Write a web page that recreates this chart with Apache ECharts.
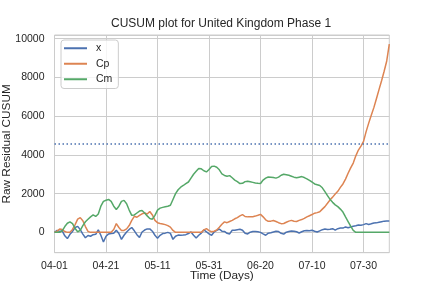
<!DOCTYPE html>
<html><head><meta charset="utf-8">
<script src="https://cdn.jsdelivr.net/npm/echarts@6/dist/echarts.min.js"></script>
<style>html,body{margin:0;padding:0;background:#fff}#c{width:432px;height:288px}</style>
</head><body><div id="c"></div>
<script>
// ---- data ----
const startDate = '2020-04-01';
const numDays = 131;
const seriesNames = ['x', 'Cp', 'Cm'];
const xValues = [0,100,50,80,-180,-320,-100,50,250,310,140,-90,-280,-160,-200,-120,-100,130,-150,-500,
  -200,-80,-60,-40,110,-60,-360,-150,20,150,250,80,-120,-260,20,120,180,180,60,-150,
  -300,-150,-60,-40,0,-50,-360,-200,-140,-150,-140,-120,-60,20,-150,-290,-150,-40,130,30,
  -80,-150,20,100,170,60,50,-50,-80,110,110,140,160,110,-50,-80,10,40,40,30,
  0,-80,-150,-40,-20,20,60,40,-50,-90,10,40,70,60,30,-30,30,80,90,80,
  110,60,20,80,140,170,150,160,190,120,190,220,220,280,240,280,320,340,380,370,
  400,450,410,440,480,490,520,550,580,590,590];
const cpValues = [0,60,170,150,40,0,0,150,400,680,760,600,300,50,0,0,0,0,0,0,
  0,0,0,150,450,250,100,100,180,350,620,830,780,880,960,1000,950,1080,900,620,
  500,460,430,400,350,270,100,0,0,0,0,0,0,0,0,0,0,0,130,190,
  90,30,60,120,260,420,540,500,560,620,700,760,850,920,820,800,800,810,840,880,
  930,800,650,570,580,610,560,500,450,460,520,580,620,570,560,620,660,720,800,860,
  920,990,1020,1060,1200,1330,1500,1680,1820,1980,2120,2320,2500,2750,3050,3330,3580,3950,4250,4450,
  4700,5200,5640,6050,6440,6900,7370,7830,8320,8850,9720];
const cmValues = [0,0,0,80,300,470,540,450,200,30,100,350,550,680,800,900,820,950,1350,1600,
  1660,1700,1600,1350,1180,1350,1600,1650,1480,1150,880,900,1000,1100,1130,1000,850,720,680,880,
  1150,1250,1290,1320,1350,1400,1700,2000,2200,2330,2420,2520,2600,2800,3000,3150,3300,3280,3180,3120,
  3250,3400,3420,3360,3230,3020,2940,2900,2930,2820,2700,2620,2520,2530,2620,2640,2610,2580,2550,2530,
  2520,2700,2800,2860,2850,2830,2800,2850,2950,3000,2980,2950,2900,2850,2820,2850,2880,2830,2760,2680,
  2600,2500,2460,2420,2300,2100,1900,1700,1550,1420,1330,1200,1050,800,560,320,100,0,0,0,
  0,0,0,0,0,0,0,0,0,0,0];
const threshold = 4550;
const yTickLabels = [0, 2000, 4000, 6000, 8000, 10000];
const colors = ['#4c72b0', '#dd8452', '#55a868'];

// category labels (MM-DD) built from the start date
const dates = [];
{
  const d0 = new Date(startDate + 'T00:00:00Z');
  for (let i = 0; i < numDays; i++) {
    const d = new Date(d0.getTime() + i * 86400000);
    dates.push(String(d.getUTCMonth() + 1).padStart(2, '0') + '-' + String(d.getUTCDate()).padStart(2, '0'));
  }
}

const FONT = 'Liberation Sans, Arial, sans-serif';
const TXT = '#262626';
const chart = echarts.init(document.getElementById('c'), null, {renderer: 'canvas'});
const seriesData = [xValues, cpValues, cmValues];
chart.setOption({
  animation: false,
  backgroundColor: '#fff',
  title: {
    text: 'CUSUM plot for United Kingdom Phase 1',
    left: 111, top: 18, padding: 0,
    textStyle: {fontFamily: FONT, fontSize: 12, fontWeight: 'normal', color: TXT}
  },
  legend: {
    orient: 'vertical', left: 61, top: 40,
    padding: [2, 6, 3, 3], itemGap: 3,
    itemWidth: 23, itemHeight: 2, icon: 'rect',
    borderColor: '#cccccc', borderWidth: 1, borderRadius: 3,
    backgroundColor: 'rgba(255,255,255,0.8)',
    textStyle: {fontFamily: FONT, fontSize: 10.5, color: TXT, lineHeight: 12.5, padding: [0, 0, 0, 4]},
    data: seriesNames
  },
  grid: {left: 54.5, right: 42.7, top: 35, bottom: 35.3, outerBoundsMode: 'none', containLabel: false,
    show: true, borderColor: '#cccccc', borderWidth: 1, backgroundColor: 'transparent'},
  xAxis: {
    type: 'category', data: dates, boundaryGap: false,
    name: 'Time (Days)', nameLocation: 'middle', nameGap: 17, nameMoveOverlap: false,
    nameTextStyle: {fontFamily: FONT, fontSize: 11.8, color: TXT},
    axisLine: {show: false}, axisTick: {show: false},
    axisLabel: {interval: 19, margin: 8, fontFamily: FONT, fontSize: 10.5, color: TXT},
    splitLine: {show: true, interval: 19, lineStyle: {color: '#cccccc', width: 1}}
  },
  yAxis: {
    type: 'value', min: -1050, max: 10190, minInterval: 2000, maxInterval: 2000,
    name: 'Raw Residual CUSUM', nameLocation: 'middle', nameGap: 42, nameMoveOverlap: false,
    nameTextStyle: {fontFamily: FONT, fontSize: 11.8, color: TXT},
    axisLine: {show: false}, axisTick: {show: false},
    axisLabel: {margin: 10, fontFamily: FONT, fontSize: 10.5, color: TXT,
      showMinLabel: false, showMaxLabel: false,
      formatter: v => (yTickLabels.indexOf(v) >= 0 ? String(v) : '')},
    splitLine: {show: true, lineStyle: {color: '#cccccc', width: 1}}
  },
  series: seriesNames.map((n, k) => {
    const s = {
      name: n, type: 'line', data: seriesData[k], showSymbol: false, symbol: 'none',
      lineStyle: {color: colors[k], width: 1.5}, itemStyle: {color: colors[k]},
      emphasis: {disabled: true}
    };
    if (k === 2) {
      s.markLine = {
        silent: true, symbol: 'none', label: {show: false},
        lineStyle: {color: '#4c72b0', width: 1.5, type: [1.5, 2.5]},
        data: [{yAxis: threshold}]
      };
    }
    return s;
  })
});
</script></body></html>
